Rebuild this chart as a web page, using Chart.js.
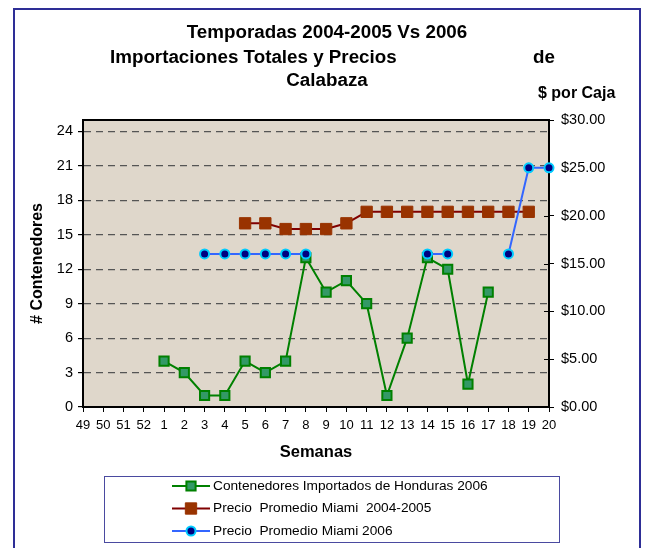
<!DOCTYPE html>
<html>
<head>
<meta charset="utf-8">
<script src="https://cdn.jsdelivr.net/npm/chart.js@4/dist/chart.umd.min.js"></script>
<style>
  html, body { margin: 0; padding: 0; background: #fff; }
  #wrap { width: 647px; height: 548px; position: relative; }
</style>
</head>
<body>
<div id="wrap"><canvas id="chart" width="647" height="548"></canvas></div>
<script>
// Weeks (categories)
const semanas = ['49', '50', '51', '52', '1', '2', '3', '4', '5', '6', '7', '8', '9', '10',
  '11', '12', '13', '14', '15', '16', '17', '18', '19', '20'];

// # containers imported from Honduras 2006 (left axis)
const contenedores2006 = [null, null, null, null, 4, 3, 1, 1, 4, 3, 4, 13, 10, 11, 9, 1, 6, 13, 12, 2, 10, null, null, null];

// Average Miami price, $ per box (right axis)
const precio20042005 = [null, null, null, null, null, null, null, null,
  19.2, 19.2, 18.6, 18.6, 18.6, 19.2, 20.4, 20.4, 20.4, 20.4, 20.4, 20.4, 20.4, 20.4, 20.4, null];
const precio2006 = [null, null, null, null, null, null, 16, 16, 16, 16, 16, 16,
  null, null, null, null, null, 16, 16, null, null, 16, 25, 25];

// Tick labels
const ticksContenedores = [0, 3, 6, 9, 12, 15, 18, 21, 24];
const ticksPrecio = [0, 5, 10, 15, 20, 25, 30];

const FONT = "'Liberation Sans', Arial, sans-serif";

// background, outer frame and plot area fill
const framePlugin = {
  id: 'frame',
  beforeDraw(chart) {
    const { ctx, chartArea: a } = chart;
    ctx.save();
    ctx.fillStyle = '#fff';
    ctx.fillRect(0, 0, chart.width, chart.height);
    ctx.strokeStyle = '#2e2e96';
    ctx.lineWidth = 2;
    ctx.strokeRect(14, 9, 626, 600);
    ctx.fillStyle = '#dfd7cb';
    ctx.fillRect(a.left, a.top, a.right - a.left, a.bottom - a.top);
    ctx.restore();
  },
  beforeDatasetsDraw(chart) {
    const { ctx, chartArea: a } = chart;
    ctx.save();
    ctx.strokeStyle = '#000';
    ctx.lineWidth = 2;
    ctx.strokeRect(a.left, a.top, a.right - a.left, a.bottom - a.top);
    // right axis ticks also cross into the plot
    const y1 = chart.scales.y1;
    ctx.lineWidth = 1;
    ticksPrecio.forEach(v => {
      const y = Math.round(y1.getPixelForValue(v)) + 0.5;
      ctx.beginPath();
      ctx.moveTo(a.right - 5, y);
      ctx.lineTo(a.right, y);
      ctx.stroke();
    });
    ctx.restore();
  }
};

// titles and legend box
const textPlugin = {
  id: 'texts',
  afterDraw(chart) {
    const { ctx } = chart;
    ctx.save();
    ctx.fillStyle = '#000';
    ctx.textBaseline = 'middle';
    ctx.font = 'bold 18.8px ' + FONT;
    ctx.textAlign = 'center';
    ctx.fillText('Temporadas 2004-2005 Vs 2006', 327, 33);
    ctx.textAlign = 'left';
    ctx.fillText('Importaciones Totales y Precios', 110, 58);
    ctx.fillText('de', 533, 58);
    ctx.textAlign = 'center';
    ctx.fillText('Calabaza', 327, 81);
    ctx.font = 'bold 16px ' + FONT;
    ctx.textAlign = 'left';
    ctx.fillText('$ por Caja', 538, 94);

    // legend
    ctx.strokeStyle = '#4a4aa0';
    ctx.lineWidth = 1;
    ctx.strokeRect(104.5, 476.5, 455, 66);
    ctx.font = '13.7px ' + FONT;
    chart.data.datasets.forEach((ds, i) => {
      const y = 486 + i * 22.5;
      ctx.strokeStyle = ds.borderColor;
      ctx.lineWidth = 2;
      ctx.beginPath();
      ctx.moveTo(172, y);
      ctx.lineTo(210, y);
      ctx.stroke();
      ctx.fillStyle = ds.pointBackgroundColor;
      ctx.strokeStyle = ds.pointBorderColor;
      ctx.lineWidth = ds.pointBorderWidth;
      ctx.beginPath();
      if (ds.pointStyle === 'circle') {
        ctx.arc(191, y, ds.pointRadius, 0, Math.PI * 2);
      } else {
        const h = ds.pointRadius * Math.SQRT1_2;
        ctx.rect(191 - h, y - h, 2 * h, 2 * h);
      }
      ctx.fill();
      ctx.stroke();
      ctx.fillStyle = '#000';
      ctx.fillText(ds.label, 213, y);
    });
    ctx.restore();
  }
};

new Chart(document.getElementById('chart'), {
  type: 'line',
  data: {
    labels: semanas,
    datasets: [
      {
        label: 'Contenedores Importados de Honduras 2006',
        data: contenedores2006,
        yAxisID: 'y',
        order: 2,
        borderColor: '#008000',
        borderWidth: 2,
        pointStyle: 'rect',
        pointRadius: 6.5,
        pointBackgroundColor: '#339966',
        pointBorderColor: '#008000',
        pointBorderWidth: 2
      },
      {
        label: 'Precio  Promedio Miami  2004-2005',
        data: precio20042005,
        yAxisID: 'y1',
        order: 1,
        borderColor: '#800000',
        borderWidth: 2,
        pointStyle: 'rect',
        pointRadius: 8,
        pointBackgroundColor: '#993300',
        pointBorderColor: '#993300',
        pointBorderWidth: 1
      },
      {
        label: 'Precio  Promedio Miami 2006',
        data: precio2006,
        yAxisID: 'y1',
        order: 0,
        borderColor: '#3366ff',
        borderWidth: 2,
        pointStyle: 'circle',
        pointRadius: 4.5,
        pointBackgroundColor: '#000080',
        pointBorderColor: '#00ccff',
        pointBorderWidth: 2
      }
    ]
  },
  options: {
    responsive: false,
    animation: false,
    spanGaps: false,
    layout: { padding: { left: 20, right: 20, top: 120, bottom: 86 } },
    plugins: {
      legend: { display: false },
      tooltip: { enabled: false }
    },
    elements: { line: { tension: 0 } },
    scales: {
      x: {
        offset: false,
        grid: { drawOnChartArea: false, drawTicks: true, tickLength: 5, color: '#000' },
        border: { color: '#000', width: 2 },
        ticks: { autoSkip: false, maxRotation: 0, padding: 6, color: '#000', font: { family: FONT, size: 13 } },
        title: { display: true, text: 'Semanas', color: '#000', padding: 0, font: { family: FONT, size: 16.5, weight: 'bold' } },
        afterFit(s) { s.height = 55; }
      },
      y: {
        position: 'left',
        min: 0,
        max: 25,
        afterBuildTicks(s) { s.ticks = ticksContenedores.map(v => ({ value: v })); },
        grid: { color: '#555', tickColor: '#000', tickLength: 5, lineWidth: 1.2 },
        border: { color: '#000', width: 2, dash: [7, 5] },
        ticks: { padding: 5, color: '#000', font: { family: FONT, size: 14.5 } },
        title: { display: true, text: '# Contenedores', color: '#000', padding: { top: 8, bottom: 0 }, font: { family: FONT, size: 16, weight: 'bold' } },
        afterFit(s) { s.width = 63; }
      },
      y1: {
        position: 'right',
        min: 0,
        max: 30,
        afterBuildTicks(s) { s.ticks = ticksPrecio.map(v => ({ value: v })); },
        grid: { drawOnChartArea: false, color: '#000', tickLength: 5 },
        border: { color: '#000', width: 2 },
        ticks: { padding: 7, color: '#000', font: { family: FONT, size: 14.5 }, callback: v => '$' + v.toFixed(2) },
        afterFit(s) { s.width = 78; }
      }
    }
  },
  plugins: [framePlugin, textPlugin]
});
</script>
</body>
</html>
